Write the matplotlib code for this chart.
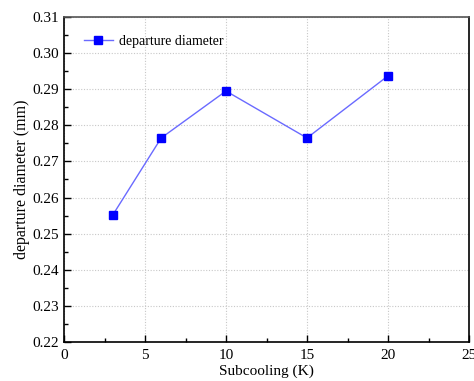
import matplotlib
matplotlib.use("Agg")
import matplotlib.pyplot as plt
from matplotlib.ticker import MultipleLocator

subcooling = [3, 6, 10, 15, 20]
diameter = [0.2551, 0.2765, 0.2895, 0.2765, 0.2937]
series_label = "departure diameter"

plt.rcParams['font.family'] = ['Liberation Serif', 'DejaVu Serif']
plt.rcParams['mathtext.fontset'] = 'stix'

fig = plt.figure(figsize=(4.74, 3.81), dpi=100)
ax = fig.add_axes([64/474, 1-342/381, (469-64)/474, (342-17)/381])

ax.plot(subcooling, diameter, color='#6a6aff', lw=1.0, marker='s', ms=5.5,
        mfc='#0000ff', mec='#0000ff', label=series_label)

ax.set_xlim(0, 25)
ax.set_ylim(0.22, 0.31)
ax.xaxis.set_major_locator(MultipleLocator(5))
ax.xaxis.set_minor_locator(MultipleLocator(2.5))
ax.yaxis.set_major_locator(MultipleLocator(0.01))
ax.yaxis.set_minor_locator(MultipleLocator(0.005))
ax.set_yticklabels([f"{v:.2f}" for v in ax.get_yticks()])
ax.tick_params(which='both', direction='in', labelsize=11)
ax.tick_params(which='major', length=5, width=1)
ax.tick_params(which='minor', length=3, width=1)
ax.tick_params(axis='x', pad=5)
ax.grid(True, which='major', color='#c8c8c8', ls=(0, (1, 1.5)), lw=0.8)
for s in ax.spines.values():
    s.set_linewidth(1.2)
ax.spines['top'].set_color('#555555')

ax.set_xlabel("Subcooling (K)", fontsize=11, labelpad=2)
ax.set_ylabel("departure diameter (mm)", fontsize=11.5, labelpad=2)

leg = ax.legend(loc='upper left', frameon=False, fontsize=10,
                bbox_to_anchor=(0.018, 0.982), handlelength=2.1, handletextpad=0.45)

fig.savefig("out.png", dpi=100)
